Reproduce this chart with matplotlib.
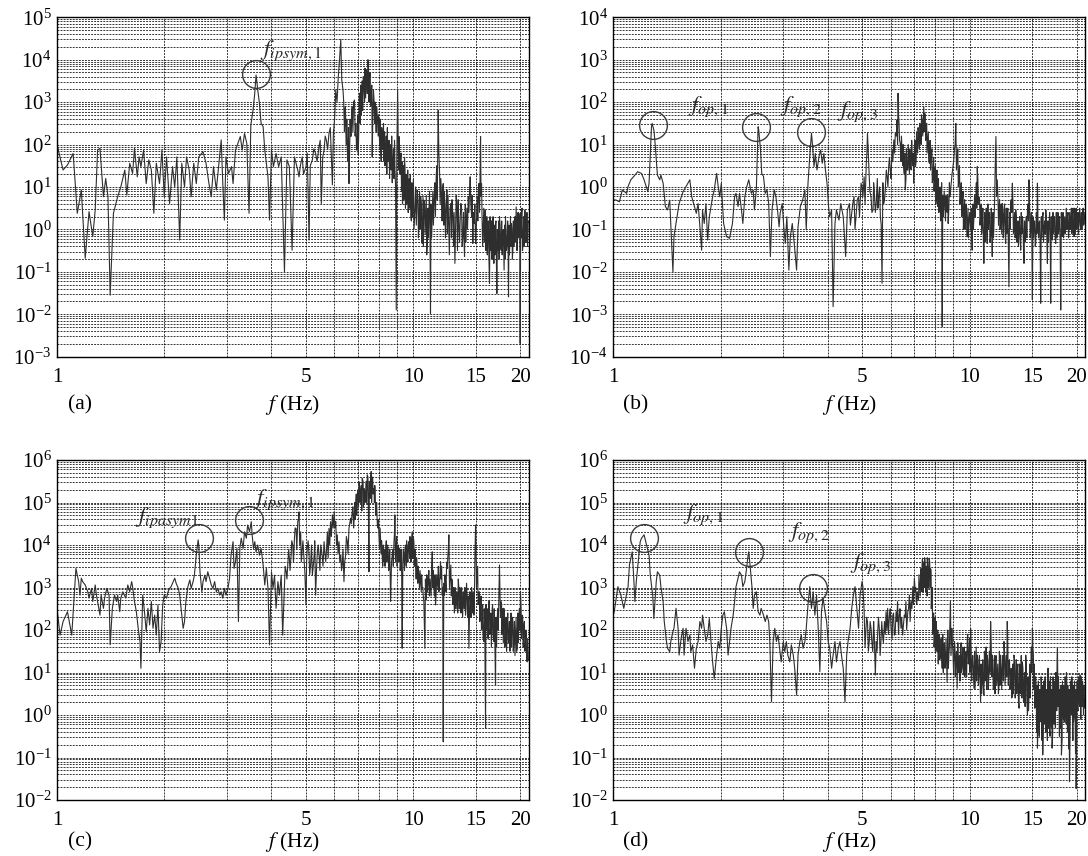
import numpy as np
import matplotlib
matplotlib.use("Agg")
from matplotlib import pyplot
from matplotlib.ticker import LogLocator, NullFormatter, FixedLocator, FixedFormatter, LogFormatterMathtext

pyplot.rcParams['font.family'] = ['Liberation Serif', 'DejaVu Serif']
pyplot.rcParams['mathtext.fontset'] = 'stix'

# spectra: frequency in Hz, amplitude as log10
# main trace (peaks and dips)
freq_a = [
    1.00, 1.04, 1.07, 1.11, 1.14, 1.17, 1.20, 1.23, 1.26, 1.28,
    1.30, 1.32, 1.35, 1.37, 1.39, 1.41, 1.44, 1.48, 1.51, 1.55,
    1.57, 1.60, 1.63, 1.65, 1.68, 1.70, 1.72, 1.75, 1.78, 1.81,
    1.84, 1.87, 1.90, 1.94, 1.97, 2.00, 2.03, 2.07, 2.11, 2.14,
    2.17, 2.21, 2.24, 2.28, 2.31, 2.35, 2.38, 2.42, 2.46, 2.50,
    2.57, 2.62, 2.67, 2.71, 2.75, 2.80, 2.85, 2.89, 2.92, 2.95,
    2.98, 3.03, 3.09, 3.12, 3.17, 3.22, 3.27, 3.31, 3.36, 3.41,
    3.46, 3.50, 3.55, 3.59, 3.62, 3.66, 3.70, 3.74, 3.79, 3.83,
    3.87, 3.91, 3.95, 4.00, 4.05, 4.12, 4.19, 4.26, 4.35, 4.42,
    4.49, 4.57, 4.64, 4.74, 4.78, 4.88, 5.00, 5.10, 5.21, 5.32,
    5.44, 5.52, 5.62, 5.70, 5.80, 5.93, 6.00, 6.06, 6.16, 6.21,
    6.26, 6.30, 6.35, 6.43, 6.53, 6.60, 6.67, 6.74, 6.84, 6.93,
    7.01, 7.07, 7.16, 7.27, 7.38, 7.46, 7.54, 7.62, 7.67, 7.76,
    7.84, 7.93, 8.01, 8.10, 8.22, 8.36, 8.51, 8.64, 8.77, 8.88,
    8.96, 9.04, 9.12, 9.21, 9.35, 9.48, 9.62, 9.72, 9.85, 9.98,
    10.11, 10.26, 10.37, 10.49, 10.60, 10.71, 10.83, 10.95, 11.07, 11.18,
    11.31, 11.45, 11.60, 11.75, 11.85, 12.01, 12.14, 12.27, 12.43, 12.59,
    12.75, 12.92, 13.09, 13.26, 13.43, 13.61, 13.78, 13.93, 14.08, 14.27,
    14.45, 14.58, 14.70, 14.83, 14.96, 15.12, 15.28, 15.45, 15.55, 15.72,
    15.89, 16.03, 16.20, 16.37, 16.52, 16.69, 16.84, 17.02, 17.17, 17.31,
    17.46, 17.65, 17.84, 17.99, 18.15, 18.35, 18.51, 18.67, 18.87, 19.04,
    19.24, 19.45, 19.62, 19.79, 19.96, 20.13, 20.35, 20.57, 20.79, 21.02,
]
logamp_a = [
    2.00, 1.40, 1.52, 1.79, 0.38, 0.93, -0.68, 0.42, -0.17, 0.46,
    1.87, 1.91, 0.77, 1.20, 0.77, -1.55, 0.38, 0.77, 1.00, 1.40,
    0.81, 1.56, 1.32, 1.91, 1.24, 1.71, 1.48, 1.87, 1.08, 1.64,
    1.40, 0.38, 1.56, 1.08, 1.87, 0.77, 1.71, 0.61, 1.48, 1.00,
    1.71, -0.25, 1.56, 1.00, 1.71, 1.40, 0.77, 1.56, 1.08, 1.71,
    1.83, 1.56, 1.08, 0.77, 1.48, 0.93, 1.60, 2.11, 1.08, 0.22,
    1.71, 1.32, 1.48, 1.08, 1.87, 2.03, 2.19, 1.87, 2.26, 2.03,
    0.38, 2.46, 2.81, 3.21, 3.64, 3.29, 2.97, 2.50, 2.42, 1.87,
    1.56, 1.24, 0.22, 1.87, 1.48, 1.79, 1.48, 1.71, -1.00, 1.64,
    1.48, -0.49, 1.71, 1.40, 1.24, 1.71, 1.48, -0.25, 1.64, 1.79,
    1.95, 0.61, 1.87, 2.11, 2.26, 1.05, 2.50, 3.29, 3.60, 4.00,
    4.48, 3.52, 3.29, 2.81, 1.87, 1.08, 2.19, 2.89, 3.05, 1.87,
    1.79, 3.21, 2.97, 3.44, 3.76, 4.00, 3.60, 3.21, 1.71, 3.05,
    2.81, 2.66, 2.42, 1.87, 1.95, 1.71, 1.79, 1.56, 1.64, 1.48,
    -1.90, 3.30, 2.19, 1.64, 1.08, 1.48, 0.77, 1.08, 0.30, 0.77,
    0.46, 0.93, 0.06, 0.77, -0.33, 0.69, 0.22, -0.33, 0.46, -1.98,
    0.46, 0.77, 1.24, 2.81, 1.40, 0.77, 1.08, 0.46, 0.93, -0.17,
    0.61, 0.30, -0.80, 0.46, 0.06, 0.61, -0.17, -0.64, 0.14, 0.77,
    1.24, 0.30, -0.33, 0.14, -0.33, 0.77, 1.08, 2.19, 1.08, 0.06,
    0.46, -0.33, 0.14, -1.27, -0.33, -0.02, -0.80, 0.14, -1.51, -0.33,
    0.30, -0.49, -0.17, -0.96, 0.30, -0.33, -1.59, -0.33, 0.14, -0.49,
    0.06, 0.53, -0.17, 0.38, -2.69, 0.38, -0.33, 0.46, -0.17, 0.14,
]
# the dark, densely sampled stretches of the same trace
freq_a_dense = [
    4.82, 4.92, 5.04, 5.14, 5.26, 5.37, 5.48, 5.57, 5.66, 5.75,
    5.85, 5.97, 6.03, 6.11,
    6.38, 6.41, 6.45, 6.48, 6.51, 6.56, 6.58, 6.63, 6.65, 6.70,
    6.72, 6.77, 6.80, 6.87, 6.90, 6.96, 6.98, 7.03, 7.05, 7.10,
    7.12, 7.14, 7.19, 7.21, 7.24, 7.30, 7.32, 7.35, 7.41, 7.43,
    7.49, 7.51, 7.57, 7.59, 7.65, 7.70, 7.73, 7.79, 7.81, 7.87,
    7.89, 7.97, 7.99, 8.05, 8.07, 8.13, 8.16, 8.19, 8.25, 8.28,
    8.31, 8.33, 8.40, 8.43, 8.46, 8.48, 8.55, 8.58, 8.61, 8.67,
    8.70, 8.73, 8.80, 8.83, 8.86, 8.92, 8.99, 9.07, 9.09, 9.15,
    9.18, 9.24, 9.27, 9.30, 9.33, 9.38, 9.41, 9.45, 9.51, 9.55,
    9.58, 9.65, 9.68, 9.75, 9.78, 9.81, 9.88, 9.91, 9.95, 10.01,
    10.05, 10.15, 10.20, 10.31, 10.34, 10.42, 10.45, 10.54, 10.57, 10.65,
    10.68, 10.76, 10.80, 10.88, 10.91, 11.00, 11.03, 11.11, 11.14, 11.22,
    11.26, 11.35, 11.39, 11.50, 11.54, 11.64, 11.68, 11.80, 11.90, 11.95,
    12.05, 12.10, 12.19, 12.23, 12.32, 12.37, 12.47, 12.52, 12.63, 12.68,
    12.80, 12.85, 12.97, 13.02, 13.14, 13.20, 13.31, 13.37, 13.49, 13.55,
    13.67, 13.72, 13.84, 13.88, 14.00, 14.04, 14.15, 14.20, 14.33, 14.39,
    14.51, 14.63, 14.75, 14.89, 15.02, 15.07, 15.18, 15.23, 15.35, 15.40,
    15.50, 15.60, 15.66, 15.78, 15.84, 15.95, 16.00, 16.09, 16.14, 16.25,
    16.30, 16.43, 16.48, 16.58, 16.63, 16.75, 16.79, 16.90, 16.96, 17.07,
    17.12, 17.23, 17.27, 17.38, 17.42, 17.53, 17.58, 17.71, 17.77, 17.90,
    17.94, 18.05, 18.10, 18.21, 18.27, 18.41, 18.46, 18.57, 18.62, 18.75,
    18.80, 18.93, 18.98, 19.10, 19.16, 19.30, 19.36, 19.50, 19.56, 19.69,
    19.74, 19.86, 19.91, 20.03, 20.08, 20.20, 20.26, 20.42, 20.48, 20.63,
    20.70, 20.85, 20.93, 21.08,
]
logamp_a_dense = [
    1.5, 1.3, 1.8, 1.5, 1.9, 1.6, 2.1, 1.7, 2.2, 1.9,
    2.4, 2.3, 2.8, 3.0,
    3.0, 2.3, 2.9, 2.0, 2.6, 1.6, 2.4, 1.9, 2.6, 2.2,
    2.8, 2.3, 3.0, 2.2, 2.5, 1.9, 2.7, 2.3, 3.1, 2.5,
    3.4, 2.7, 3.5, 2.8, 3.6, 3.0, 3.8, 3.1, 3.7, 3.2,
    3.8, 3.0, 3.7, 2.9, 3.4, 2.6, 3.3, 2.5, 3.0, 2.3,
    2.9, 2.2, 2.7, 2.0, 2.6, 1.6, 2.4, 1.9, 2.5, 1.6,
    2.3, 1.5, 2.2, 1.3, 2.4, 1.6, 2.1, 1.2, 2.0, 1.4,
    2.2, 1.1, 1.9, 1.2, 2.1, 1.0, 1.6, 2.0, 1.4, 1.9,
    1.3, 1.8, 0.9, 1.6, 0.6, 1.5, 0.7, 1.7, 0.5, 1.3,
    0.6, 1.4, 0.4, 1.2, 0.5, 1.3, 0.2, 1.1, 0.3, 1.2,
    0.0, 1.0, 0.1, 0.7, -0.2, 0.9, 0.0, 0.6, -0.3, 0.8,
    -0.4, 0.6, -0.1, 0.8, -0.6, 0.5, -0.2, 0.9, 0.0, 0.6,
    -0.2, 0.9, 0.1, 1.1, 0.3, 1.5, 0.7, 1.8, 0.6, 1.2,
    0.2, 1.0, 0.1, 0.9, -0.2, 0.6, -0.1, 0.8, -0.6, 0.5,
    -0.2, 0.7, -0.4, 0.4, -0.1, 0.8, -0.5, 0.7, -0.3, 0.3,
    0.5, -0.4, 0.4, -0.2, 0.6, -0.3, 0.5, 0.0, 0.4, 0.9,
    0.6, 0.8, 0.4, 0.6, 0.0, 0.4, 0.2, 0.9, 0.4, 1.2,
    0.8, 0.3, -0.4, 0.5, -0.3, 0.4, -0.5, 0.3, -0.6, 0.2,
    -0.6, 0.3, -0.5, 0.2, -0.7, 0.3, -0.4, 0.1, -0.6, 0.2,
    -0.8, 0.0, -0.5, 0.2, -0.7, 0.1, -0.3, 0.2, -0.6, 0.0,
    -0.4, 0.1, -0.7, 0.0, -0.5, 0.2, -0.4, 0.1, -0.6, 0.3,
    -0.4, 0.0, -0.7, 0.2, -0.4, 0.3, -0.3, 0.1, -0.5, 0.4,
    -0.2, 0.2, -0.4, 0.4, -0.2, 0.5, -0.5, 0.3, -0.4, 0.3,
    -0.3, 0.4, -0.4, 0.2,
]

freq_b = [
    1.00, 1.02, 1.04, 1.06, 1.09, 1.10, 1.12, 1.15, 1.17, 1.20,
    1.22, 1.25, 1.26, 1.28, 1.285, 1.30, 1.31, 1.33, 1.35, 1.36,
    1.38, 1.40, 1.42, 1.44, 1.45, 1.47, 1.48, 1.51, 1.53, 1.57,
    1.60, 1.64, 1.66, 1.69, 1.71, 1.73, 1.75, 1.77, 1.78, 1.80,
    1.82, 1.84, 1.86, 1.90, 1.92, 1.95, 1.97, 1.99, 2.01, 2.04,
    2.08, 2.12, 2.16, 2.19, 2.21, 2.24, 2.26, 2.29, 2.31, 2.34,
    2.37, 2.40, 2.44, 2.47, 2.49, 2.52, 2.55, 2.56, 2.59, 2.61,
    2.64, 2.67, 2.70, 2.73, 2.76, 2.79, 2.83, 2.86, 2.89, 2.92,
    2.94, 2.98, 3.01, 3.04, 3.07, 3.11, 3.14, 3.18, 3.22, 3.27,
    3.30, 3.35, 3.40, 3.45, 3.48, 3.52, 3.56, 3.60, 3.62, 3.66,
    3.69, 3.73, 3.78, 3.82, 3.86, 3.90, 3.94, 3.98, 4.02, 4.05,
    4.10, 4.14, 4.19, 4.23, 4.30, 4.35, 4.42, 4.49, 4.54, 4.60,
    4.67, 4.74, 4.80, 4.88, 4.96, 5.02, 5.06, 5.13, 5.17, 5.22,
    5.29, 5.36, 5.40, 5.47, 5.56, 5.62, 5.68, 5.74, 5.80, 5.87,
    5.93, 5.99, 6.06, 6.13, 6.19, 6.26, 6.30, 6.34, 6.39, 6.46,
    6.53, 6.60, 6.68, 6.75, 6.82, 6.90, 6.97, 7.05, 7.12, 7.20,
    7.28, 7.36, 7.44, 7.48, 7.55, 7.63, 7.72, 7.80, 7.90, 7.99,
    8.06, 8.14, 8.23, 8.32, 8.38, 8.43, 8.52, 8.62, 8.71, 8.80,
    8.88, 8.98, 9.07, 9.15, 9.23, 9.33, 9.43, 9.54, 9.64, 9.74,
    9.85, 9.96, 10.07, 10.17, 10.29, 10.40, 10.51, 10.62, 10.74, 10.85,
    10.97, 11.09, 11.21, 11.33, 11.46, 11.58, 11.71, 11.86, 11.96, 12.09,
    12.22, 12.36, 12.49, 12.63, 12.76, 12.90, 13.04, 13.19, 13.33, 13.48,
    13.62, 13.77, 13.92, 14.07, 14.22, 14.38, 14.54, 14.69, 14.85, 15.01,
    15.18, 15.34, 15.51, 15.67, 15.84, 16.02, 16.19, 16.37, 16.54, 16.72,
    16.90, 17.09, 17.27, 17.46, 17.65, 17.84, 18.03, 18.23, 18.43, 18.63,
    18.83, 19.03, 19.24, 19.45, 19.66, 19.87, 20.09, 20.31, 20.53, 20.75,
    20.98, 21.21,
]
logamp_b = [
    -0.30, -0.31, -0.35, -0.07, -0.15, 0.01, 0.17, 0.28, 0.36, 0.32,
    0.17, -0.11, 0.09, 1.42, 1.50, 1.34, 1.03, 0.28, 0.17, 0.28,
    0.09, -0.46, -0.54, -0.31, -0.86, -2.00, -1.17, -0.70, -0.39, -0.11,
    0.01, 0.17, -0.23, -0.46, -0.62, -0.39, -0.94, -1.49, -0.54, -0.86,
    -0.39, -1.25, -0.70, -0.23, -0.07, 0.32, 0.01, -0.23, 0.09, -0.86,
    -1.17, -1.21, -0.86, -0.23, -0.15, -0.46, -0.15, -0.54, -0.86, -0.23,
    0.01, 0.17, -0.15, -0.07, -0.54, -0.07, 1.42, 1.34, 0.87, 0.32,
    0.25, -0.15, -0.07, -0.39, -1.64, -0.54, -0.07, -0.23, -0.54, -0.94,
    -0.62, -0.39, -0.94, -1.33, -0.70, -1.96, -1.17, -0.86, -1.33, -1.96,
    -0.94, -0.46, -0.31, -0.07, -1.01, 0.09, 0.72, 1.27, 1.03, 0.48,
    0.79, 0.40, 0.72, 0.87, 0.56, 0.79, 0.40, 0.09, -0.46, -0.70,
    -0.54, -2.82, -0.86, -0.54, -0.78, -0.39, -0.70, -1.64, -0.54, -0.39,
    -0.62, -0.23, -0.70, -0.23, 0.09, -0.23, 0.24, 0.56, 1.27, 0.40,
    -0.23, -0.54, -0.07, -0.39, -0.23, -0.70, -2.27, -0.39, -0.07, 0.24,
    0.48, 0.40, 0.87, 1.11, 1.27, 1.58, 2.21, 1.50, 1.03, 0.87,
    0.48, -0.07, 0.40, 0.72, 0.48, 0.79, 0.09, 0.48, 0.95, 1.19,
    1.42, 1.58, 1.89, 1.74, 1.34, 1.03, 0.56, 0.72, 0.24, 0.40,
    -0.23, -0.46, -0.23, -0.54, -3.29, -0.70, -0.39, -0.54, -0.86, -0.23,
    0.09, 0.48, 0.87, 1.50, 0.72, 0.17, -0.23, -0.39, -0.70, -0.54,
    -1.17, -0.86, -1.01, -1.49, -0.70, -0.39, 0.48, -0.23, -0.70, -0.86,
    -1.80, -1.01, -1.33, -0.70, -1.17, -1.64, -0.86, 1.19, 0.17, -0.54,
    -0.86, -0.39, -0.70, -1.33, -0.70, -2.35, -0.39, 0.09, -0.86, -0.54,
    -1.25, -1.01, -1.49, -0.70, -1.80, -1.01, -0.54, 0.17, -1.01, -2.66,
    -0.86, -1.33, 0.09, -0.86, -2.74, -0.70, -1.01, -0.54, -1.80, -0.86,
    -2.74, -1.25, -0.70, -1.33, -1.01, -0.86, -2.90, -1.17, -0.94, -0.86,
    -0.70, -1.01, -0.78, -0.70, -1.17, -0.62, -0.86, -0.70, -1.01, -0.70,
    -0.86, -0.70,
]
freq_b_dense = [
    4.63, 4.70, 4.77, 4.84, 4.91, 4.99, 5.09, 5.15, 5.25, 5.32,
    5.38, 5.44, 5.51, 5.53, 5.59, 5.65, 5.71, 5.77, 5.84, 5.90,
    5.96, 6.02, 6.09, 6.16, 6.23, 6.28, 6.32, 6.36, 6.42, 6.44,
    6.49, 6.51, 6.56, 6.58, 6.63, 6.65, 6.71, 6.73, 6.78, 6.80,
    6.86, 6.88, 6.93, 6.95, 7.00, 7.03, 7.08, 7.10, 7.15, 7.17,
    7.23, 7.25, 7.31, 7.33, 7.39, 7.42, 7.46, 7.51, 7.53, 7.58,
    7.60, 7.66, 7.68, 7.75, 7.77, 7.84, 7.86, 7.93, 7.95, 8.02,
    8.04, 8.10, 8.12, 8.18, 8.20, 8.27, 8.29, 8.35, 8.41, 8.46,
    8.49, 8.56, 8.59, 8.66, 8.68, 8.75, 8.78, 8.84, 8.93, 9.02,
    9.11, 9.19, 9.27, 9.30, 9.37, 9.40, 9.48, 9.51, 9.59, 9.61,
    9.69, 9.71, 9.79, 9.82, 9.90, 9.93, 10.01, 10.04, 10.11, 10.14,
    10.22, 10.25, 10.33, 10.36, 10.45, 10.48, 10.55, 10.58, 10.67, 10.70,
    10.78, 10.81, 10.90, 10.93, 11.02, 11.05, 11.14, 11.17, 11.26, 11.29,
    11.38, 11.41, 11.51, 11.54, 11.64, 11.67, 11.76, 11.80, 11.91, 12.02,
    12.06, 12.14, 12.18, 12.27, 12.31, 12.40, 12.44, 12.54, 12.58, 12.68,
    12.72, 12.81, 12.85, 12.95, 12.99, 13.09, 13.14, 13.24, 13.28, 13.38,
    13.43, 13.53, 13.57, 13.67, 13.72, 13.82, 13.87, 13.97, 14.02, 14.12,
    14.17, 14.27, 14.32, 14.43, 14.48, 14.59, 14.64, 14.75, 14.80, 14.91,
    14.96, 15.07, 15.12, 15.23, 15.29, 15.40, 15.45, 15.56, 15.62, 15.73,
    15.78, 15.90, 15.96, 16.08, 16.13, 16.25, 16.30, 16.42, 16.48, 16.60,
    16.66, 16.78, 16.84, 16.96, 17.02, 17.15, 17.21, 17.33, 17.39, 17.52,
    17.58, 17.71, 17.77, 17.90, 17.96, 18.10, 18.16, 18.30, 18.36, 18.50,
    18.56, 18.70, 18.76, 18.90, 18.96, 19.10, 19.17, 19.31, 19.38, 19.52,
    19.59, 19.73, 19.80, 19.94, 20.01, 20.16, 20.23, 20.38, 20.45, 20.60,
    20.67, 20.83, 20.90, 21.06,
]
logamp_b_dense = [
    -0.9, -0.4, -1.0, -0.3, -0.7, 0.0, -0.4, 0.8, -0.1, -0.6,
    0.1, -0.6, 0.2, -0.5, 0.0, -0.9, 0.1, -0.3, 0.4, 0.0,
    0.7, 0.2, 0.6, 0.8, 1.2, 1.0, 1.7, 1.1, 0.6, 1.2,
    0.5, 1.0, 0.3, 0.8, 0.2, 0.9, 0.4, 1.0, 0.3, 0.9,
    0.4, 1.1, 0.5, 0.8, 0.7, 1.1, 0.6, 1.3, 0.8, 1.4,
    0.9, 1.5, 1.0, 1.7, 1.2, 1.6, 1.3, 1.7, 1.1, 1.5,
    0.8, 1.3, 0.6, 1.1, 0.4, 0.9, 0.1, 0.7, -0.1, 0.5,
    -0.4, 0.4, -0.3, 0.2, -0.6, 0.0, -0.8, 0.1, -0.2, -0.5,
    -0.1, -0.8, -0.2, -0.6, -0.2, -0.5, 0.1, -0.1, 0.3, 0.6,
    1.0, 0.4, 0.9, 0.0, 0.5, -0.4, 0.1, -0.7, -0.1, -1.0,
    -0.3, -1.0, -0.4, -0.9, -0.5, -1.2, -0.6, -0.8, -0.5, -1.1,
    -0.4, -1.0, -0.2, -0.7, 0.1, -0.5, 0.2, -0.4, -0.3, -0.9,
    -0.4, -1.1, -0.5, -1.2, -0.6, -1.3, -0.5, -1.0, -0.4, -1.0,
    -0.6, -1.3, -0.5, -1.1, -0.6, -1.2, -0.3, 0.4, -0.2, -0.3,
    -0.9, -0.3, -1.0, -0.4, -1.1, -0.5, -1.2, -0.4, -1.0, -0.5,
    -1.1, -0.5, -1.3, -0.6, -1.0, -0.3, -0.6, -0.4, -1.1, -0.6,
    -1.2, -0.7, -1.3, -0.8, -1.4, -0.7, -1.2, -0.6, -1.1, -0.8,
    -1.4, -0.8, -1.3, -0.7, -1.2, -0.4, -0.8, -0.5, -1.2, -0.6,
    -1.3, -0.7, -1.2, -0.8, -1.4, -0.6, -1.1, -0.7, -1.2, -0.8,
    -1.3, -0.7, -1.2, -0.6, -1.3, -0.8, -1.1, -0.7, -1.2, -0.8,
    -1.3, -0.6, -1.1, -0.7, -1.2, -0.6, -1.1, -0.7, -1.2, -0.6,
    -1.2, -0.6, -1.1, -0.7, -1.3, -0.6, -1.1, -0.6, -1.2, -0.7,
    -1.1, -0.5, -1.0, -0.6, -1.2, -0.6, -1.0, -0.5, -1.1, -0.5,
    -1.0, -0.5, -1.1, -0.5, -1.0, -0.6, -1.1, -0.5, -0.9, -0.6,
    -1.0, -0.5, -0.9, -0.6,
]

freq_c = [
    1.00, 1.02, 1.04, 1.07, 1.10, 1.13, 1.15, 1.16, 1.17, 1.18,
    1.20, 1.22, 1.23, 1.25, 1.26, 1.28, 1.29, 1.30, 1.32, 1.33,
    1.35, 1.36, 1.38, 1.40, 1.41, 1.43, 1.45, 1.47, 1.48, 1.50,
    1.51, 1.53, 1.56, 1.58, 1.60, 1.62, 1.63, 1.65, 1.67, 1.69,
    1.71, 1.72, 1.74, 1.76, 1.78, 1.80, 1.82, 1.84, 1.86, 1.88,
    1.90, 1.92, 1.94, 1.96, 1.98, 2.00, 2.03, 2.05, 2.07, 2.09,
    2.12, 2.14, 2.16, 2.19, 2.21, 2.23, 2.26, 2.28, 2.30, 2.33,
    2.36, 2.38, 2.41, 2.43, 2.46, 2.49, 2.50, 2.52, 2.55, 2.57,
    2.60, 2.62, 2.65, 2.68, 2.71, 2.74, 2.77, 2.80, 2.83, 2.86,
    2.89, 2.92, 2.95, 2.98, 3.02, 3.05, 3.08, 3.12, 3.14, 3.17,
    3.20, 3.23, 3.26, 3.29, 3.33, 3.36, 3.40, 3.43, 3.47, 3.51,
    3.53, 3.56, 3.59, 3.62, 3.66, 3.70, 3.74, 3.79, 3.83, 3.87,
    3.91, 3.95, 4.00, 4.04, 4.08, 4.12, 4.17, 4.21, 4.26, 4.30,
    4.35, 4.40, 4.45, 4.49, 4.54, 4.59, 4.64, 4.69, 4.74, 4.78,
    4.83, 4.88, 4.93, 5.00, 5.04, 5.10, 5.15, 5.21, 5.27, 5.32,
    5.38, 5.44, 5.50, 5.55, 5.62, 5.68, 5.74, 5.80, 5.86, 5.93,
    6.00, 6.06, 6.12, 6.19, 6.26, 6.32, 6.39, 6.46, 6.53, 6.60,
    6.67, 6.74, 6.82, 6.89, 6.97, 7.04, 7.12, 7.19, 7.27, 7.35,
    7.43, 7.51, 7.56, 7.62, 7.67, 7.76, 7.84, 7.93, 8.01, 8.10,
    8.18, 8.27, 8.36, 8.46, 8.55, 8.64, 8.73, 8.83, 8.88, 8.96,
    9.04, 9.12, 9.21, 9.31, 9.41, 9.52, 9.62, 9.72, 9.83, 9.94,
    10.04, 10.15, 10.26, 10.37, 10.49, 10.60, 10.71, 10.78, 10.88, 11.02,
    11.18, 11.31, 11.43, 11.55, 11.68, 11.80, 11.93, 12.06, 12.14, 12.22,
    12.32, 12.46, 12.59, 12.75, 12.87, 13.01, 13.14, 13.29, 13.43, 13.58,
    13.72, 13.87, 14.02, 14.18, 14.33, 14.48, 14.64, 14.80, 14.96, 15.12,
    15.28, 15.45, 15.62, 15.79, 15.96, 16.13, 16.30, 16.48, 16.66, 16.84,
    17.02, 17.20, 17.39, 17.46, 17.62, 17.77, 17.96, 18.15, 18.35, 18.55,
    18.75, 18.95, 19.16, 19.37, 19.58, 19.79, 20.00, 20.22, 20.43, 20.66,
    20.88,
]
logamp_c = [
    2.50, 1.88, 2.20, 2.43, 1.88, 3.45, 3.14, 2.82, 3.22, 3.14,
    3.06, 2.90, 2.75, 2.98, 2.67, 3.06, 2.82, 2.67, 2.35, 2.82,
    2.51, 2.75, 2.98, 2.82, 1.65, 2.51, 2.82, 2.67, 2.82, 2.43,
    2.75, 2.90, 2.75, 3.06, 2.90, 3.14, 3.02, 2.67, 2.43, 2.04,
    1.73, 1.10, 2.82, 2.43, 1.96, 2.51, 2.12, 2.67, 2.04, 2.35,
    1.88, 2.59, 1.49, 1.73, 2.59, 2.82, 2.75, 2.90, 2.98, 3.02,
    3.14, 3.22, 3.10, 2.98, 2.82, 2.51, 2.04, 2.20, 2.67, 3.02,
    3.18, 2.98, 3.14, 3.29, 3.76, 4.12, 4.00, 3.37, 2.90, 3.14,
    3.29, 3.14, 3.37, 3.22, 3.06, 2.98, 3.14, 2.90, 2.98, 2.82,
    2.90, 2.75, 2.98, 2.82, 2.98, 3.22, 3.76, 4.08, 3.45, 3.61,
    3.92, 2.20, 3.92, 4.16, 3.92, 4.31, 4.16, 4.47, 4.31, 4.55,
    4.24, 3.92, 4.08, 3.84, 4.00, 3.76, 3.92, 3.53, 3.06, 3.45,
    2.98, 1.65, 3.37, 2.98, 3.29, 2.51, 3.14, 2.82, 3.29, 1.88,
    3.06, 3.37, 3.61, 3.69, 3.76, 4.00, 4.16, 4.39, 4.55, 4.78,
    4.31, 3.92, 3.76, 2.59, 3.92, 3.76, 3.53, 3.29, 3.76, 2.82,
    3.84, 3.76, 4.00, 3.76, 4.08, 3.61, 4.31, 4.39, 4.55, 4.71,
    4.78, 4.55, 4.24, 4.08, 3.76, 3.53, 3.14, 3.76, 4.08, 4.39,
    4.63, 4.78, 4.55, 4.94, 5.18, 5.49, 5.25, 5.57, 5.33, 5.10,
    5.65, 3.37, 5.33, 5.73, 5.49, 5.33, 4.86, 4.47, 4.24, 4.08,
    3.76, 3.61, 3.84, 4.00, 3.53, 2.67, 3.76, 4.08, 4.71, 4.00,
    3.69, 3.92, 3.53, 1.57, 3.76, 4.00, 3.76, 4.08, 3.92, 4.31,
    4.08, 3.69, 3.45, 3.29, 3.14, 2.98, 2.67, 1.57, 2.82, 3.14,
    2.98, 3.84, 2.98, 2.59, 3.14, 2.90, 3.61, 2.82, -0.63, 2.82,
    3.14, 3.45, 4.24, 3.53, 3.14, 2.75, 2.51, 2.67, 2.98, 2.75,
    2.59, 2.82, 2.35, 2.75, 1.57, 2.67, 2.82, 2.35, 4.47, 3.37,
    2.82, 2.35, 2.04, 1.73, -0.31, 2.35, 2.67, 2.04, 2.51, 1.73,
    0.71, 2.20, 2.82, 3.53, 2.67, 2.04, 2.51, 1.88, 2.20, 1.73,
    2.04, 2.27, 1.73, 1.88, 1.57, 2.20, 2.90, 2.35, 2.04, 1.73,
    1.25,
]
freq_c_dense = [
    4.37, 4.42, 4.47, 4.51, 4.56, 4.61, 4.66, 4.71, 4.76, 4.80,
    4.85, 4.90, 4.96, 5.02, 5.07, 5.12, 5.18, 5.24, 5.29, 5.35,
    5.41, 5.47, 5.52, 5.58, 5.65, 5.71, 5.77, 5.83, 5.89, 5.96,
    6.03, 6.09, 6.15, 6.22, 6.29, 6.35, 6.42, 6.49, 6.56, 6.63,
    6.70, 6.77, 6.80, 6.85, 6.87, 6.92, 6.94, 7.00, 7.02, 7.07,
    7.09, 7.15, 7.17, 7.23, 7.25, 7.30, 7.32, 7.38, 7.40, 7.46,
    7.48, 7.53, 7.58, 7.60, 7.64, 7.69, 7.72, 7.78, 7.80, 7.86,
    7.89, 7.95, 7.98, 8.04, 8.07, 8.13, 8.15, 8.21, 8.24, 8.31,
    8.33, 8.40, 8.43, 8.50, 8.53, 8.59, 8.62, 8.69, 8.76, 8.79,
    8.86, 8.92, 8.99, 9.01, 9.08, 9.10, 9.16, 9.19, 9.25, 9.28,
    9.35, 9.38, 9.45, 9.48, 9.56, 9.58, 9.66, 9.68, 9.76, 9.79,
    9.86, 9.89, 9.97, 10.00, 10.08, 10.11, 10.19, 10.22, 10.30, 10.33,
    10.41, 10.45, 10.53, 10.56, 10.64, 10.67, 10.82, 10.85, 10.92, 10.96,
    11.06, 11.10, 11.14, 11.22, 11.26, 11.35, 11.39, 11.47, 11.51, 11.60,
    11.64, 11.72, 11.76, 11.84, 11.88, 11.97, 12.01, 12.10, 12.18, 12.27,
    12.36, 12.41, 12.50, 12.55, 12.64, 12.70, 12.79, 12.83, 12.92, 12.96,
    13.05, 13.10, 13.19, 13.24, 13.33, 13.38, 13.47, 13.52, 13.62, 13.67,
    13.76, 13.81, 13.91, 13.96, 14.06, 14.11, 14.21, 14.27, 14.37, 14.42,
    14.52, 14.58, 14.68, 14.74, 14.84, 14.89, 15.00, 15.05, 15.16, 15.21,
    15.32, 15.37, 15.49, 15.54, 15.66, 15.71, 15.83, 15.88, 16.00, 16.05,
    16.17, 16.22, 16.35, 16.40, 16.52, 16.57, 16.70, 16.75, 16.88, 16.94,
    17.07, 17.13, 17.26, 17.32, 17.51, 17.57, 17.70, 17.73, 17.83, 17.90,
    18.03, 18.08, 18.22, 18.28, 18.42, 18.48, 18.62, 18.68, 18.82, 18.88,
    19.02, 19.09, 19.23, 19.30, 19.44, 19.51, 19.65, 19.72, 19.86, 19.93,
    20.07, 20.14, 20.29, 20.36, 20.51, 20.58, 20.73, 20.80, 20.95, 21.05,
]
logamp_c_dense = [
    3.5, 3.2, 3.9, 3.4, 4.1, 3.6, 4.4, 3.9, 4.6, 4.0,
    3.6, 4.1, 3.4, 3.6, 4.1, 3.3, 4.0, 3.5, 4.1, 3.4,
    4.0, 3.4, 3.9, 3.5, 3.8, 3.9, 3.7, 4.0, 4.2, 4.4,
    4.4, 4.0, 3.8, 3.6, 3.4, 3.9, 3.6, 4.2, 3.8, 4.5,
    4.5, 4.9, 4.4, 5.0, 4.6, 5.2, 4.7, 5.3, 4.9, 5.4,
    5.0, 5.4, 4.8, 5.5, 4.9, 5.3, 5.0, 5.5, 5.0, 5.6,
    5.0, 5.5, 5.1, 5.6, 5.0, 5.6, 5.2, 5.0, 5.4, 4.7,
    5.0, 4.4, 4.6, 3.9, 4.4, 3.8, 4.1, 3.5, 4.0, 3.9,
    3.5, 4.1, 3.6, 3.9, 3.4, 3.9, 3.2, 3.6, 3.9, 3.5,
    4.3, 3.6, 4.2, 3.5, 4.0, 3.6, 3.9, 3.4, 3.9, 3.3,
    3.6, 3.9, 3.4, 3.9, 3.5, 4.1, 3.6, 4.0, 3.7, 4.2,
    3.6, 4.1, 3.7, 4.2, 3.5, 3.9, 3.2, 3.7, 3.1, 3.5,
    3.0, 3.4, 2.9, 3.3, 3.0, 2.8, 3.2, 2.7, 3.3, 2.9,
    3.4, 2.8, 3.2, 2.8, 3.5, 3.0, 3.4, 2.8, 3.3, 2.9,
    3.3, 3.0, 3.5, 3.0, 3.3, 3.2, 3.5, 3.0, 3.1, 3.3,
    2.9, 3.6, 3.7, 3.9, 3.0, 3.3, 2.8, 3.2, 2.6, 3.0,
    2.4, 3.0, 2.5, 2.9, 2.4, 3.2, 2.5, 3.0, 2.4, 3.0,
    2.3, 2.9, 2.5, 3.0, 2.5, 3.1, 2.3, 2.8, 2.2, 2.9,
    2.3, 3.0, 2.4, 2.9, 2.6, 3.6, 4.0, 3.0, 3.5, 2.6,
    2.9, 2.2, 2.8, 2.0, 2.6, 1.8, 2.5, 1.9, 2.6, 2.0,
    2.5, 1.8, 2.7, 1.9, 2.4, 1.6, 2.6, 1.9, 2.5, 1.8,
    2.3, 1.6, 2.5, 2.0, 2.9, 2.3, 2.6, 1.9, 2.5, 1.7,
    2.4, 1.6, 2.3, 1.5, 2.4, 1.7, 2.2, 1.5, 2.4, 1.6,
    2.3, 1.5, 2.2, 1.4, 2.3, 1.5, 2.4, 1.7, 2.5, 2.0,
    2.6, 1.8, 2.3, 1.6, 2.2, 1.5, 2.0, 1.4, 1.8, 1.3,
]

freq_d = [
    1.00, 1.006, 1.03, 1.05, 1.07, 1.10, 1.11, 1.13, 1.14, 1.15,
    1.16, 1.18, 1.19, 1.20, 1.22, 1.23, 1.24, 1.26, 1.27, 1.29,
    1.30, 1.32, 1.33, 1.35, 1.36, 1.38, 1.39, 1.41, 1.42, 1.44,
    1.45, 1.47, 1.48, 1.50, 1.52, 1.53, 1.55, 1.57, 1.58, 1.60,
    1.62, 1.64, 1.65, 1.67, 1.69, 1.71, 1.73, 1.75, 1.77, 1.78,
    1.80, 1.82, 1.84, 1.86, 1.88, 1.90, 1.92, 1.95, 1.97, 1.99,
    2.01, 2.03, 2.05, 2.08, 2.10, 2.12, 2.14, 2.17, 2.19, 2.21,
    2.24, 2.26, 2.29, 2.31, 2.34, 2.36, 2.39, 2.40, 2.42, 2.45,
    2.47, 2.49, 2.52, 2.55, 2.58, 2.60, 2.64, 2.67, 2.70, 2.73,
    2.75, 2.78, 2.81, 2.84, 2.87, 2.90, 2.93, 2.96, 3.00, 3.03,
    3.06, 3.09, 3.13, 3.16, 3.20, 3.23, 3.27, 3.30, 3.34, 3.37,
    3.41, 3.45, 3.48, 3.52, 3.56, 3.60, 3.64, 3.68, 3.72, 3.76,
    3.80, 3.84, 3.88, 3.93, 3.97, 4.01, 4.05, 4.10, 4.14, 4.19,
    4.23, 4.28, 4.33, 4.37, 4.42, 4.47, 4.52, 4.56, 4.62, 4.67,
    4.72, 4.77, 4.81, 4.88, 4.93, 4.99, 5.02, 5.06, 5.12, 5.17,
    5.23, 5.29, 5.35, 5.40, 5.44, 5.47, 5.52, 5.58, 5.64, 5.70,
    5.77, 5.83, 5.89, 5.96, 6.02, 6.09, 6.15, 6.22, 6.28, 6.35,
    6.42, 6.49, 6.56, 6.63, 6.71, 6.78, 6.85, 6.93, 7.00, 7.08,
    7.15, 7.23, 7.31, 7.38, 7.44, 7.50, 7.57, 7.63, 7.70, 7.77,
    7.83, 7.90, 7.97, 8.04, 8.11, 8.19, 8.29, 8.38, 8.47, 8.56,
    8.65, 8.75, 8.84, 8.92, 8.99, 9.07, 9.15, 9.23, 9.33, 9.43,
    9.54, 9.64, 9.74, 9.85, 9.96, 10.07, 10.17, 10.29, 10.40, 10.51,
    10.62, 10.74, 10.85, 10.97, 11.09, 11.21, 11.33, 11.46, 11.58, 11.71,
    11.83, 11.96, 12.09, 12.22, 12.36, 12.49, 12.63, 12.76, 12.90, 13.04,
    13.19, 13.33, 13.48, 13.62, 13.77, 13.92, 14.07, 14.22, 14.38, 14.54,
    14.69, 14.85, 15.01, 15.11, 15.24, 15.37, 15.51, 15.64, 15.78, 15.91,
    16.05, 16.19, 16.33, 16.47, 16.61, 16.76, 16.90, 17.05, 17.20, 17.35,
    17.50, 17.65, 17.80, 17.96, 18.11, 18.27, 18.43, 18.59, 18.75, 18.91,
    19.08, 19.24, 19.41, 19.58, 19.75, 19.92, 20.09, 20.27, 20.44, 20.62,
    20.80, 20.98, 21.21,
]
logamp_d = [
    2.35, 2.43, 3.02, 2.82, 2.51, 3.02, 3.53, 3.84, 3.29, 2.67,
    3.14, 3.76, 4.08, 4.16, 4.24, 4.12, 4.00, 3.76, 3.29, 2.82,
    2.27, 3.14, 3.37, 3.29, 3.02, 2.67, 2.20, 1.73, 1.57, 1.49,
    1.73, 1.96, 2.04, 2.51, 2.04, 1.41, 1.80, 2.04, 1.41, 2.04,
    1.73, 1.88, 1.49, 1.65, 1.10, 1.57, 1.73, 2.20, 2.04, 2.35,
    2.04, 1.73, 1.88, 2.27, 1.73, 1.25, 0.86, 1.41, 1.73, 1.57,
    2.04, 2.35, 2.43, 2.04, 1.41, 1.73, 2.04, 2.35, 2.67, 3.02,
    3.22, 3.37, 3.29, 3.02, 3.14, 3.37, 3.76, 3.84, 3.53, 3.02,
    2.51, 2.82, 2.90, 2.43, 2.35, 2.51, 2.35, 2.20, 2.35, 2.20,
    1.73, 0.31, 1.73, 2.04, 1.73, 1.88, 1.57, 1.25, 1.73, 1.49,
    1.73, 1.41, 1.25, 1.65, 1.41, 1.10, 0.47, 1.41, 1.73, 1.88,
    1.57, 1.73, 2.04, 2.59, 3.02, 2.51, 2.90, 2.35, 2.82, 2.04,
    1.02, 2.43, 2.75, 2.43, 2.20, 1.73, 1.57, 1.10, 1.41, 1.73,
    1.25, 1.57, 1.73, 1.41, 1.10, 0.31, 1.41, 1.73, 2.04, 2.51,
    2.82, 3.02, 2.67, 2.04, 2.82, 3.14, 3.02, 2.43, 2.04, 2.20,
    1.73, 2.04, 1.49, 1.88, 0.94, 1.73, 1.88, 2.04, 1.73, 1.88,
    2.20, 2.43, 2.51, 2.35, 2.04, 2.35, 1.88, 2.43, 2.67, 2.35,
    2.04, 1.88, 2.35, 2.67, 2.43, 2.82, 2.67, 3.02, 3.22, 2.67,
    2.82, 3.14, 3.45, 3.69, 3.29, 3.61, 3.02, 3.53, 3.69, 3.45,
    2.82, 2.20, 1.73, 1.96, 1.49, 1.73, 1.41, 1.10, 1.57, 1.25,
    0.78, 1.41, 2.67, 2.04, 1.41, 1.73, 1.25, 0.63, 1.10, 1.57,
    1.25, 0.94, 1.41, 1.73, 1.41, 2.04, 1.25, 0.63, 1.10, 1.41,
    0.94, 0.31, 0.78, 0.47, 1.10, 1.41, 0.94, 2.20, 1.41, 0.78,
    1.25, 0.94, 0.63, 1.41, 1.10, 1.73, 1.10, 2.20, 1.25, 0.78,
    0.47, 1.41, 0.63, 1.10, 0.16, 0.78, 1.25, 0.63, 1.41, 0.00,
    0.47, 1.10, 2.04, 1.41, 0.16, 0.63, -0.78, 0.47, -0.16, 0.78,
    -0.94, 0.31, 0.63, 0.00, 1.10, -0.31, 0.63, -0.78, 0.16, 0.47,
    0.94, 1.57, 0.63, 0.16, -0.94, 0.47, -0.16, 0.63, 0.78, 0.16,
    -1.57, 0.31, 0.63, -0.16, 0.47, -1.73, 0.16, 0.63, 0.94, 0.47,
    0.63, 0.16, 0.47,
]
freq_d_dense = [
    5.09, 5.14, 5.20, 5.26, 5.32, 5.38, 5.50, 5.55, 5.61, 5.67,
    5.73, 5.80, 5.86, 5.92, 5.99, 6.06, 6.12, 6.18, 6.25, 6.32,
    6.38, 6.45, 6.52, 6.59, 6.66, 6.74, 6.81, 6.89, 6.96, 7.04,
    7.06, 7.11, 7.13, 7.19, 7.21, 7.27, 7.29, 7.34, 7.36, 7.41,
    7.42, 7.47, 7.48, 7.53, 7.55, 7.60, 7.61, 7.66, 7.68, 7.73,
    7.75, 7.80, 7.81, 7.86, 7.88, 7.93, 7.95, 8.00, 8.02, 8.07,
    8.09, 8.14, 8.17, 8.22, 8.25, 8.32, 8.35, 8.41, 8.44, 8.50,
    8.53, 8.59, 8.62, 8.69, 8.72, 8.78, 8.81, 8.87, 8.95, 9.02,
    9.10, 9.12, 9.19, 9.21, 9.27, 9.30, 9.37, 9.40, 9.47, 9.50,
    9.57, 9.60, 9.67, 9.70, 9.78, 9.81, 9.88, 9.92, 10.00, 10.03,
    10.10, 10.14, 10.21, 10.25, 10.33, 10.36, 10.44, 10.47, 10.55, 10.59,
    10.66, 10.70, 10.78, 10.81, 10.89, 10.93, 11.01, 11.05, 11.13, 11.17,
    11.25, 11.29, 11.37, 11.41, 11.50, 11.54, 11.62, 11.66, 11.75, 11.79,
    11.87, 11.92, 12.00, 12.05, 12.13, 12.17, 12.26, 12.31, 12.40, 12.45,
    12.54, 12.58, 12.67, 12.72, 12.81, 12.85, 12.95, 12.99, 13.09, 13.14,
    13.24, 13.28, 13.38, 13.43, 13.53, 13.57, 13.67, 13.72, 13.82, 13.87,
    13.97, 14.02, 14.12, 14.17, 14.27, 14.32, 14.43, 14.48, 14.59, 14.64,
    14.75, 14.80, 14.91, 14.96, 15.06, 15.14, 15.18, 15.29, 15.33, 15.44,
    15.47, 15.56, 15.60, 15.70, 15.74, 15.85, 15.88, 15.98, 16.02, 16.12,
    16.16, 16.26, 16.30, 16.40, 16.44, 16.54, 16.58, 16.69, 16.72, 16.83,
    16.87, 16.98, 17.01, 17.12, 17.16, 17.27, 17.31, 17.42, 17.46, 17.57,
    17.61, 17.72, 17.76, 17.88, 17.92, 18.03, 18.07, 18.19, 18.23, 18.35,
    18.39, 18.51, 18.55, 18.67, 18.71, 18.83, 18.87, 19.00, 19.04, 19.16,
    19.20, 19.33, 19.37, 19.50, 19.54, 19.67, 19.71, 19.84, 19.88, 20.01,
    20.05, 20.18, 20.22, 20.36, 20.40, 20.53, 20.58, 20.71, 20.76, 20.89,
    20.94, 21.08,
]
logamp_d_dense = [
    1.6, 2.3, 1.5, 2.2, 1.7, 2.2, 1.5, 2.3, 1.4, 2.2,
    1.7, 1.9, 2.0, 1.9, 2.5, 1.8, 2.4, 1.9, 2.2, 1.9,
    2.5, 2.3, 2.1, 2.3, 2.0, 2.5, 2.2, 2.5, 2.6, 2.9,
    3.0, 2.6, 2.9, 2.7, 3.3, 2.8, 3.2, 2.9, 3.6, 2.9,
    3.6, 3.0, 3.7, 2.9, 3.5, 2.8, 3.7, 3.0, 3.3, 3.6,
    3.0, 3.4, 2.5, 3.0, 1.9, 2.4, 1.6, 2.3, 1.5, 2.2,
    1.6, 2.0, 1.2, 1.9, 1.3, 1.8, 1.4, 1.9, 1.0, 1.7,
    1.1, 1.8, 1.3, 2.0, 1.1, 1.6, 2.2, 1.4, 1.7, 1.0,
    1.6, 0.9, 1.5, 1.1, 1.7, 1.0, 1.4, 0.8, 1.7, 1.0,
    1.6, 1.1, 1.6, 0.9, 1.5, 0.9, 1.9, 1.2, 1.8, 1.0,
    1.6, 0.8, 1.4, 1.0, 1.5, 0.6, 1.6, 0.8, 1.3, 0.7,
    1.4, 0.8, 1.2, 0.5, 1.3, 0.7, 1.5, 0.8, 1.6, 0.6,
    1.3, 0.6, 1.5, 1.0, 1.7, 0.9, 1.3, 0.6, 1.4, 0.5,
    1.4, 0.7, 1.2, 0.5, 1.5, 0.7, 1.2, 0.6, 1.4, 0.8,
    1.5, 0.7, 1.4, 0.9, 1.6, 0.7, 1.3, 0.6, 1.1, 0.4,
    1.2, 0.5, 1.3, 0.4, 1.3, 0.5, 1.2, 0.3, 1.2, 0.5,
    1.4, 0.4, 1.1, 0.3, 1.0, 0.2, 1.2, 0.4, 0.9, 0.1,
    1.2, 0.4, 1.6, 1.0, 1.6, 0.6, 1.2, 0.2, 0.9, -0.4,
    0.7, -0.3, 0.8, -0.5, 0.6, 0.0, 0.9, -0.6, 0.7, -0.1,
    0.8, -0.2, 0.9, -0.4, 0.6, -0.6, 1.0, -0.3, 0.8, -0.5,
    0.9, -0.3, 0.6, -0.4, 0.9, -0.2, 0.8, -0.3, 1.0, 0.1,
    1.3, 0.2, 0.9, -0.5, 0.6, -0.3, 0.7, -0.6, 0.8, -0.1,
    0.7, 0.0, 0.9, -0.2, 1.0, -0.4, 0.7, -0.8, 0.6, -0.3,
    0.8, 0.0, 0.9, -0.6, 0.7, 0.0, 0.8, -0.9, 0.6, -0.2,
    0.8, 0.1, 0.9, 0.2, 0.7, -0.1, 0.9, 0.2, 0.8, 0.0,
    0.7, 0.3,
]

for fr, la in [(freq_a, logamp_a), (freq_b, logamp_b), (freq_c, logamp_c), (freq_d, logamp_d),
               (freq_a_dense, logamp_a_dense), (freq_b_dense, logamp_b_dense),
               (freq_c_dense, logamp_c_dense), (freq_d_dense, logamp_d_dense)]:
    assert len(fr) == len(la), (len(fr), len(la))

xticks = [1, 5, 10, 15, 20]
xticklabels = ['1', '5', '10', '15', '20']

# marked peaks (circle centre f, log10 amp) and their labels
circles_a = [(3.62, 3.67)]
labels_a = [(r'$f_{ipsym,1}$', 3.72, 4.20)]
circles_b = [(1.29, 1.46), (2.52, 1.42), (3.60, 1.30)]
labels_b = [(r'$f_{op,1}$', 1.62, 1.89), (r'$f_{op,2}$', 2.93, 1.88), (r'$f_{op,3}$', 4.25, 1.77)]
circles_c = [(2.50, 4.16), (3.46, 4.59)]
labels_c = [(r'$f_{ipasym1}$', 1.66, 4.65), (r'$f_{ipsym,1}$', 3.56, 5.06)]
circles_d = [(1.22, 4.17), (2.40, 3.84), (3.64, 2.98)]
labels_d = [(r'$f_{op,1}$', 1.57, 4.72), (r'$f_{op,2}$', 3.09, 4.30), (r'$f_{op,3}$', 4.63, 3.57)]


def merge(f1, v1, f2, v2):
    f = np.concatenate([f1, f2])
    v = np.concatenate([v1, v2])
    order = np.argsort(f, kind='stable')
    return f[order], v[order]


def draw_panel(ax, freq, logamp, ylo, yhi, letter, circles, labels, lab_y):
    ax.plot(freq, 10.0 ** np.array(logamp), color='#2e2e2e', lw=0.8)
    ax.set_xscale('log')
    ax.set_yscale('log')
    ax.set_xlim(1, 21.1)
    ax.set_ylim(10.0 ** ylo, 10.0 ** yhi)
    ax.xaxis.set_major_locator(FixedLocator(xticks))
    ax.xaxis.set_major_formatter(FixedFormatter(xticklabels))
    ax.xaxis.set_minor_locator(FixedLocator([2, 3, 4, 6, 7, 8, 9]))
    ax.xaxis.set_minor_formatter(NullFormatter())
    ax.yaxis.set_major_locator(LogLocator(base=10, numticks=20))
    ax.yaxis.set_major_formatter(LogFormatterMathtext())
    ax.yaxis.set_minor_locator(LogLocator(base=10, subs=np.arange(2, 10), numticks=20))
    ax.yaxis.set_minor_formatter(NullFormatter())
    ax.grid(True, which='both', color='k', lw=0.55, ls=(0, (2.5, 1.5)))
    ax.tick_params(which='both', direction='in', length=0, labelsize=15)
    ax.tick_params(axis='x', pad=8)
    ax.tick_params(axis='y', pad=4)
    for sp in ax.spines.values():
        sp.set_linewidth(1.0)
    for f, la in circles:
        ax.plot([f], [10.0 ** la], 'o', ms=20, mfc='none', mec='#3a3a3a', mew=1.0)
    for txt, f, la in labels:
        ax.text(f, 10.0 ** la, txt, fontsize=16.5, color='#2a2a2a', ha='left', va='center')
    ax.text(0.5, lab_y, r'$f$ (Hz)', transform=ax.transAxes, ha='center', va='center', fontsize=15.5)
    ax.text(0.048, lab_y, letter, transform=ax.transAxes, ha='center', va='center', fontsize=15.5)


fig = pyplot.figure(figsize=(10.88, 8.56), dpi=100)
ax_a = fig.add_axes([0.0524, 0.5833, 0.4336, 0.3965])
ax_b = fig.add_axes([0.5637, 0.5833, 0.4336, 0.3965])
ax_c = fig.add_axes([0.0524, 0.0654, 0.4336, 0.3972])
ax_d = fig.add_axes([0.5637, 0.0654, 0.4336, 0.3972])

fa, va = merge(freq_a, logamp_a, freq_a_dense, logamp_a_dense)
fb, vb = merge(freq_b, logamp_b, freq_b_dense, logamp_b_dense)
fc, vc = merge(freq_c, logamp_c, freq_c_dense, logamp_c_dense)
fd, vd = merge(freq_d, logamp_d, freq_d_dense, logamp_d_dense)

draw_panel(ax_a, fa, va, -3, 5, '(a)', circles_a, labels_a, -0.142)
draw_panel(ax_b, fb, vb, -4, 4, '(b)', circles_b, labels_b, -0.142)
draw_panel(ax_c, fc, vc, -2, 6, '(c)', circles_c, labels_c, -0.124)
draw_panel(ax_d, fd, vd, -2, 6, '(d)', circles_d, labels_d, -0.124)

fig.savefig('out.png', dpi=100)
